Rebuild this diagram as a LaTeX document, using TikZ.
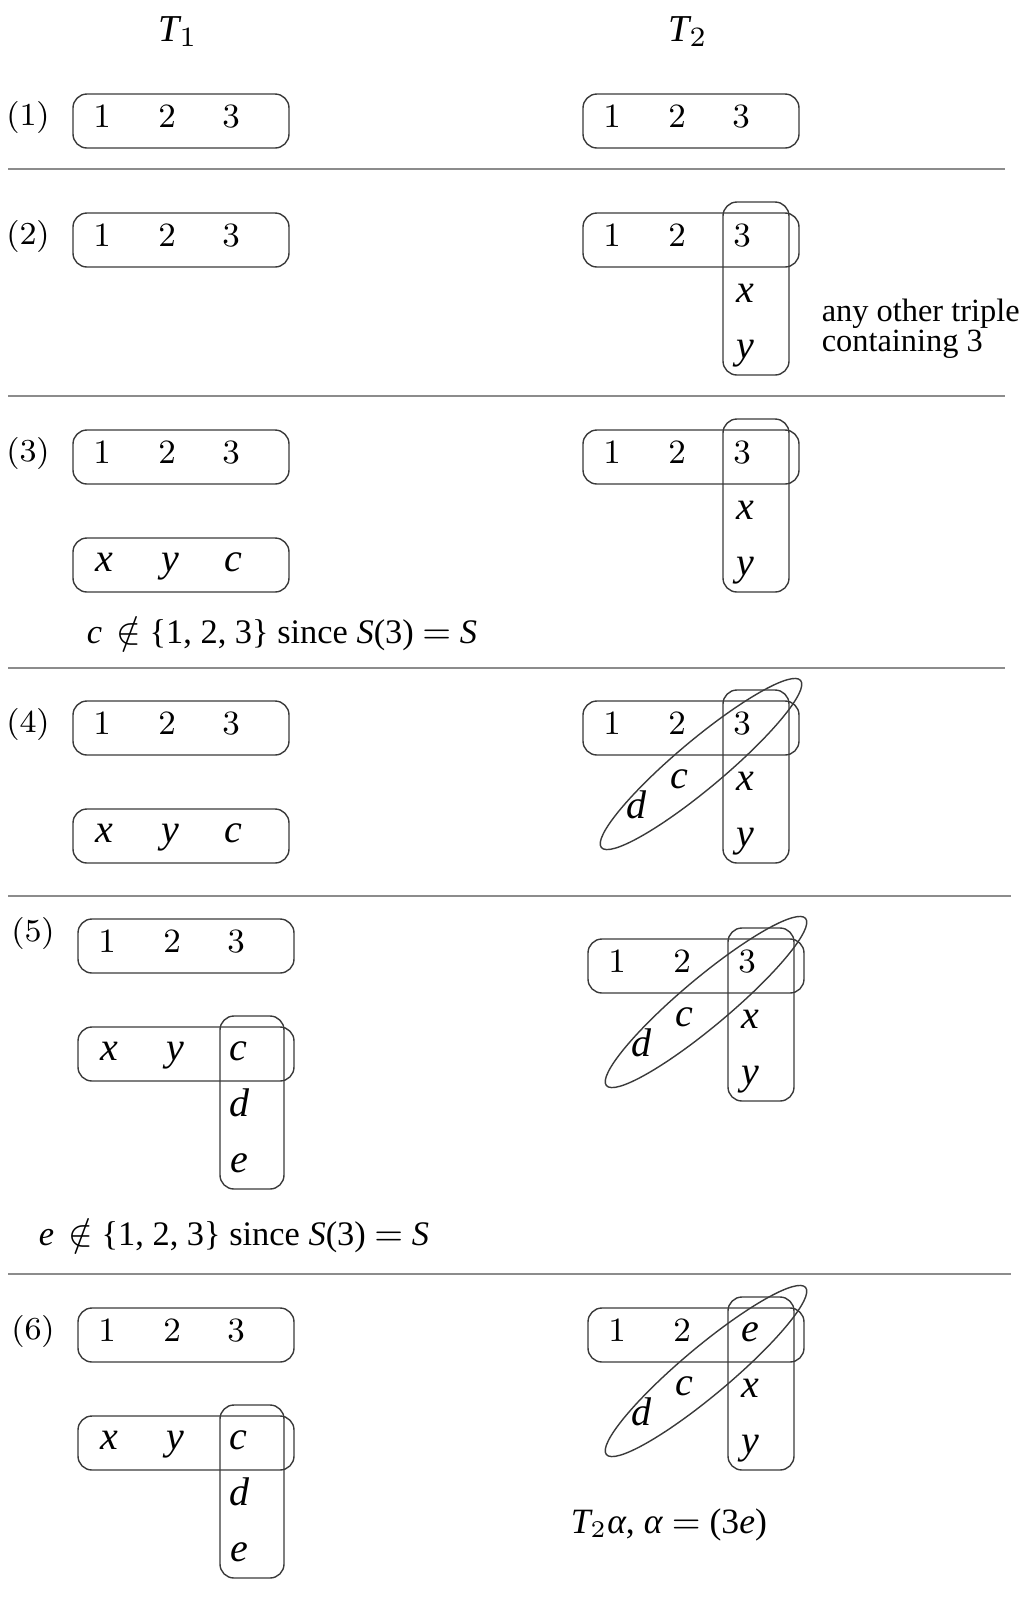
\documentclass[tikz,border=0pt]{standalone}
\usepackage{fontspec}
\setmainfont{Liberation Serif}
\usepackage{tikz}
\definecolor{boxline}{HTML}{3A3A3A}
\definecolor{sepgray}{HTML}{8C8C8C}

\begin{document}
\begin{tikzpicture}[
  x=0.25pt, y=-0.25pt,
  tbox/.style={draw=boxline, line width=0.35pt, rounded corners=3.5pt},
  ovalset/.style={draw=boxline, line width=0.35pt},
  rowsep/.style={draw=sepgray, line width=0.55pt},
  num/.style={inner sep=0pt, anchor=base, font=\fontfamily{lmr}\fontsize{8.5}{10}\selectfont},
  var/.style={inner sep=0pt, anchor=base, font=\fontsize{10}{12}\selectfont\itshape},
  rowtag/.style={inner sep=0pt, anchor=base, font=\fontfamily{lmr}\fontsize{8}{10}\selectfont},
  note/.style={inner sep=0pt, anchor=base west, font=\fontsize{8.6}{10}\selectfont},
  head/.style={inner sep=0pt, anchor=base, font=\fontsize{9.5}{11}\selectfont}
]
  \useasboundingbox (0,0) rectangle (1036,1598);

  % Column heads
  \node[head] (headA) at (178,41) {$\textit{T}_1$};
  \node[head] (headB) at (688,41) {$\textit{T}_2$};

  % Row (1)
  \node[rowtag] (tag1) at (28,125) {(1)};
  \draw[tbox] (73,94) rectangle ++(216,54);
  \node[num] (a1one) at (102,127) {1};
  \node[num] (a1two) at (167,127) {2};
  \node[num] (a1three) at (231,127) {3};
  \draw[tbox] (583,94) rectangle ++(216,54);
  \node[num] (b1one) at (612,127) {1};
  \node[num] (b1two) at (677,127) {2};
  \node[num] (b1three) at (741,127) {3};
  \draw[rowsep] (8,169) -- (1005,169);

  % Row (2)
  \node[rowtag] (tag2) at (28,244) {(2)};
  \draw[tbox] (73,213) rectangle ++(216,54);
  \node[num] (a2one) at (102,246) {1};
  \node[num] (a2two) at (167,246) {2};
  \node[num] (a2three) at (231,246) {3};
  \draw[tbox] (583,213) rectangle ++(216,54);
  \draw[tbox] (723,202) rectangle ++(66,173);
  \node[num] (b2one) at (612,246) {1};
  \node[num] (b2two) at (677,246) {2};
  \node[num] (b2three) at (742,246) {3};
  \node[var] (b2x) at (745,302) {x};
  \node[var] (b2y) at (745,358) {y};
  \node[note, font=\fontsize{8.1}{10}\selectfont] (other1) at (821,321) {any other triple};
  \node[note, font=\fontsize{8.1}{10}\selectfont] (other2) at (821,351) {containing 3};
  \draw[rowsep] (8,396) -- (1005,396);

  % Row (3)
  \node[rowtag] (tag3) at (28,461) {(3)};
  \draw[tbox] (73,430) rectangle ++(216,54);
  \node[num] (a3one) at (102,463) {1};
  \node[num] (a3two) at (167,463) {2};
  \node[num] (a3three) at (231,463) {3};
  \draw[tbox] (73,538) rectangle ++(216,54);
  \node[var] (a3x) at (104,571) {x};
  \node[var] (a3y) at (170,571) {y};
  \node[var] (a3c) at (233,571) {c};
  \node[note] (why3) at (86,643) {\textit{c}\, $\notin$ \{1, 2, 3\} since \textit{S}(3) $=$ \textit{S}};
  \draw[tbox] (583,430) rectangle ++(216,54);
  \draw[tbox] (723,419) rectangle ++(66,173);
  \node[num] (b3one) at (612,463) {1};
  \node[num] (b3two) at (677,463) {2};
  \node[num] (b3three) at (742,463) {3};
  \node[var] (b3x) at (745,519) {x};
  \node[var] (b3y) at (745,575) {y};
  \draw[rowsep] (8,668) -- (1005,668);

  % Row (4)
  \node[rowtag] (tag4) at (28,732) {(4)};
  \draw[tbox] (73,701) rectangle ++(216,54);
  \node[num] (a4one) at (102,734) {1};
  \node[num] (a4two) at (167,734) {2};
  \node[num] (a4three) at (231,734) {3};
  \draw[tbox] (73,809) rectangle ++(216,54);
  \node[var] (a4x) at (104,842) {x};
  \node[var] (a4y) at (170,842) {y};
  \node[var] (a4c) at (233,842) {c};
  \draw[tbox] (583,701) rectangle ++(216,54);
  \draw[tbox] (723,690) rectangle ++(66,173);
  \draw[ovalset, rotate around={40:(701,764)}] (701,764) ellipse [x radius=32.5pt, y radius=6pt];
  \node[num] (b4one) at (612,734) {1};
  \node[num] (b4two) at (677,734) {2};
  \node[num] (b4three) at (742,734) {3};
  \node[var] (b4x) at (745,790) {x};
  \node[var] (b4y) at (745,846) {y};
  \node[var] (b4c) at (679,788) {c};
  \node[var] (b4d) at (636,818) {d};
  \draw[rowsep] (8,896) -- (1011,896);

  % Row (5)
  \node[rowtag] (tag5) at (33,941) {(5)};
  \draw[tbox] (78,919) rectangle ++(216,54);
  \node[num] (a5one) at (107,952) {1};
  \node[num] (a5two) at (172,952) {2};
  \node[num] (a5three) at (236,952) {3};
  \draw[tbox] (78,1027) rectangle ++(216,54);
  \draw[tbox] (220,1016) rectangle ++(64,173);
  \node[var] (a5x) at (109,1060) {x};
  \node[var] (a5y) at (175,1060) {y};
  \node[var] (a5c) at (238,1060) {c};
  \node[var] (a5d) at (239,1116) {d};
  \node[var] (a5e) at (239,1172) {e};
  \node[note] (why5) at (38,1245) {\textit{e}\, $\notin$ \{1, 2, 3\} since \textit{S}(3) $=$ \textit{S}};
  \draw[tbox] (588,939) rectangle ++(216,54);
  \draw[tbox] (728,928) rectangle ++(66,173);
  \draw[ovalset, rotate around={40:(706,1002)}] (706,1002) ellipse [x radius=32.5pt, y radius=6pt];
  \node[num] (b5one) at (617,972) {1};
  \node[num] (b5two) at (682,972) {2};
  \node[num] (b5three) at (747,972) {3};
  \node[var] (b5x) at (750,1028) {x};
  \node[var] (b5y) at (750,1084) {y};
  \node[var] (b5c) at (684,1026) {c};
  \node[var] (b5d) at (641,1056) {d};
  \draw[rowsep] (8,1274) -- (1011,1274);

  % Row (6)
  \node[rowtag] (tag6) at (33,1339) {(6)};
  \draw[tbox] (78,1308) rectangle ++(216,54);
  \node[num] (a6one) at (107,1341) {1};
  \node[num] (a6two) at (172,1341) {2};
  \node[num] (a6three) at (236,1341) {3};
  \draw[tbox] (78,1416) rectangle ++(216,54);
  \draw[tbox] (220,1405) rectangle ++(64,173);
  \node[var] (a6x) at (109,1449) {x};
  \node[var] (a6y) at (175,1449) {y};
  \node[var] (a6c) at (238,1449) {c};
  \node[var] (a6d) at (239,1505) {d};
  \node[var] (a6e) at (239,1561) {e};
  \draw[tbox] (588,1308) rectangle ++(216,54);
  \draw[tbox] (728,1297) rectangle ++(66,173);
  \draw[ovalset, rotate around={40:(706,1371)}] (706,1371) ellipse [x radius=32.5pt, y radius=6pt];
  \node[num] (b6one) at (617,1341) {1};
  \node[num] (b6two) at (682,1341) {2};
  \node[var] (b6e) at (750,1341) {e};
  \node[var] (b6x) at (750,1397) {x};
  \node[var] (b6y) at (750,1453) {y};
  \node[var] (b6c) at (684,1395) {c};
  \node[var] (b6d) at (641,1425) {d};
  \node[note, font=\fontsize{8.9}{10}\selectfont] (swap6) at (570,1533) {$\textit{T}_2$\textit{α}, \textit{α} $=$ (3\textit{e})};

\end{tikzpicture}
\end{document}
